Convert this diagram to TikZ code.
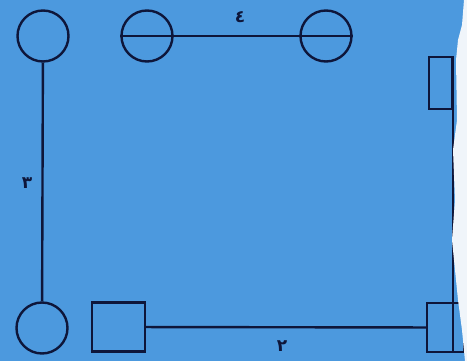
\documentclass[tikz,border=0pt]{standalone}
\usepackage{fontspec}
\newfontfamily\arabicfont[Script=Arabic, BoldFont={DejaVu Sans Bold}]{DejaVu Sans}
\usepackage{tikz}
\definecolor{paperblue}{RGB}{76, 153, 222}
\definecolor{inkblue}{RGB}{14, 22, 58}
\definecolor{paperwhite}{RGB}{240, 245, 250}
\usetikzlibrary{positioning, calc}

\begin{document}
\begin{tikzpicture}[x=1pt, y=-1pt,
    female/.style={circle, draw=inkblue, line width=2.4pt, minimum size=51pt, inner sep=0pt},
    male/.style={rectangle, draw=inkblue, line width=2.4pt, minimum width=#1, minimum height=49pt, inner sep=0pt},
    link/.style={draw=inkblue, line width=2.4pt},
    num/.style={text=inkblue, font=\arabicfont\bfseries\fontsize{17}{17}\selectfont, inner sep=0pt}
]
    % background and frame
    \fill[paperblue] (0,0) rectangle (467,361);
    \useasboundingbox (0,0) rectangle (467,361);
    \begin{scope}
    \clip (0,0) rectangle (467,361);

    % top row
    \node[female] (c1) at (43,36) {};
    \node[female] (c2) at (147,36) {};
    \node[female] (c3) at (326,36) {};

    % bottom row
    \node[female] (c4) at (42,328) {};
    \node[male=53pt] (s1) at (118.5,327) {};
    \node[male=37pt] (s2) at (445.5,327.5) {};

    % right edge
    \node[male=23pt, minimum height=52pt] (r1) at (440.5,83) {};

    % connectors
    \draw[link] (c2.west) -- (c3.east);
    \draw[link] (c1) -- (c4);
    \draw[link] (s1) -- (s2);
    \draw[link] (r1.north east) -- (r1.north east |- s2.south);

    % torn paper edge
    \fill[paperwhite] (467,0) -- (464,0) -- (462,25) -- (458,40) -- (456,60)
        -- (457,120) -- (453,150) -- (455,200) -- (452,240) -- (456,280)
        -- (458,300) -- (462,330) -- (465,361) -- (467,361) -- cycle;
    \end{scope}

    % labels
    \node[num] (n4) at (240,17) {٤};
    \node[num] (n3) at (27,183) {٣};
    \node[num] (n2) at (282,346) {٢};
\end{tikzpicture}
\end{document}
